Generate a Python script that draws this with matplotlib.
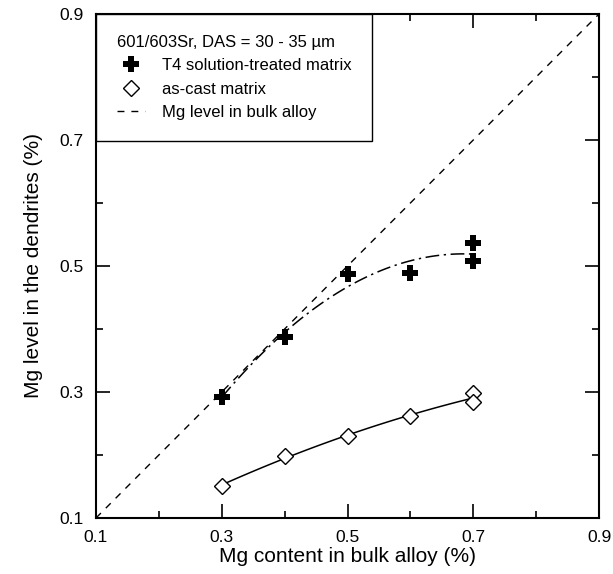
import numpy as np
import matplotlib
matplotlib.use("Agg")
import matplotlib.pyplot as plt

plt.rcParams['font.family'] = ['Liberation Sans', 'DejaVu Sans']

# Data
bulk_t4 = [0.3, 0.4, 0.5, 0.6, 0.7, 0.7]
mg_t4 = [0.292, 0.387, 0.487, 0.489, 0.536, 0.508]

bulk_cast = [0.3, 0.4, 0.5, 0.6, 0.7, 0.7]
mg_cast = [0.151, 0.198, 0.230, 0.262, 0.298, 0.284]

diag = [0.1, 0.9]

major_ticks = [0.1, 0.3, 0.5, 0.7, 0.9]
minor_ticks = [0.2, 0.4, 0.6, 0.8]

legend_title = "601/603Sr, DAS = 30 - 35 \u00b5m"
labels = ["T4 solution-treated matrix", "as-cast matrix", "Mg level in bulk alloy"]

fig = plt.figure(figsize=(6.13, 5.74), dpi=100)
ax = fig.add_axes([0.1566, 0.0976, 0.8206, 0.878])

# fitted trend curves (quadratic) between 0.3 and 0.7
xf = np.linspace(0.3, 0.7, 100)
c_t4 = np.polyfit(bulk_t4, mg_t4, 2)
c_cast = np.polyfit(bulk_cast, mg_cast, 2)
ax.plot(xf, np.polyval(c_t4, xf), color='black', lw=1.1, dashes=(9, 3, 1.5, 3))
ax.plot(xf, np.polyval(c_cast, xf), color='black', lw=1.1)

l3, = ax.plot(diag, diag, color='black', lw=1.0, dashes=(5, 5))
l1, = ax.plot(bulk_t4, mg_t4, ls='none', marker='P', ms=12, color='black', mew=0)
l2, = ax.plot(bulk_cast, mg_cast, ls='none', marker='D', ms=8.5, mfc='white',
              mec='black', mew=1.0)

ax.set_xlim(0.1, 0.9)
ax.set_ylim(0.1, 0.9)
ax.set_xticks(major_ticks)
ax.set_yticks(major_ticks)
ax.set_xticks(minor_ticks, minor=True)
ax.set_yticks(minor_ticks, minor=True)
ax.tick_params(which='both', direction='in', top=True, right=True, width=1.2)
ax.tick_params(which='major', length=10, labelsize=12.5, pad=9)
ax.tick_params(which='minor', length=5)
for s in ax.spines.values():
    s.set_linewidth(1.5)

ax.set_xlabel("Mg content in bulk alloy (%)", fontsize=15, labelpad=1)
ax.set_ylabel("Mg level in the dendrites (%)", fontsize=15, labelpad=12)

leg = ax.legend([l1, l2, l3], labels, title=legend_title, loc='upper left',
                bbox_to_anchor=(0.0, 1.0), borderaxespad=0, fontsize=12,
                title_fontsize=12, alignment='left', fancybox=False,
                edgecolor='black', framealpha=1, handlelength=1.7,
                labelspacing=0.5, borderpad=1.25, handletextpad=1.0)
leg.get_frame().set_linewidth(1.0)

fig.savefig("out.png", dpi=100)
